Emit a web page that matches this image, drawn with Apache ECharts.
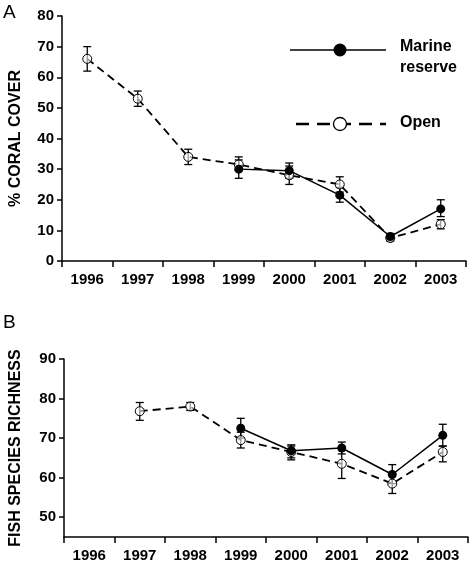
<!DOCTYPE html>
<html>
<head>
<meta charset="utf-8">
<script src="https://cdn.jsdelivr.net/npm/echarts@6/dist/echarts.min.js"></script>
<style>html,body{margin:0;padding:0;background:#fff}#c{width:474px;height:569px}</style>
</head>
<body>
<div id="c"></div>
<script>
var years = ['1996', '1997', '1998', '1999', '2000', '2001', '2002', '2003'];

// Panel A: % coral cover
var coralOpen = [66, 53, 34, 31.5, 28, 25, 7.5, 12];
var coralOpenLo = [62, 50.5, 31.5, 29.5, 25, 22.5, 6.5, 10.5];
var coralOpenHi = [70, 55.5, 36.5, 34, 31, 27.5, 8.5, 13.5];
var coralReserve = [null, null, null, 30, 29.5, 21.5, 8, 17];
var coralReserveLo = [null, null, null, 27, 27, 19.2, 7, 14.5];
var coralReserveHi = [null, null, null, 33, 32, 24, 9, 20];

// Panel B: fish species richness
var fishOpen = [null, 76.8, 78, 69.5, 66.5, 63.5, 58.5, 66.5];
var fishOpenLo = [null, 74.5, 77, 67.5, 64.5, 59.8, 56, 64];
var fishOpenHi = [null, 79, 79, 71.5, 68, 67.5, 61, 68];
var fishReserve = [null, null, null, 72.5, 66.8, 67.5, 60.8, 70.7];
var fishReserveLo = [null, null, null, 70, 65, 66, 58.5, 68];
var fishReserveHi = [null, null, null, 75, 68.3, 69, 63.3, 73.5];

var fishTicks = [50, 60, 70, 80, 90];

var font = 'Liberation Sans, Arial, sans-serif';

function errData(lo, hi) {
    var out = [];
    for (var i = 0; i < lo.length; i++) {
        if (lo[i] != null) out.push([i, lo[i], hi[i]]);
    }
    return out;
}

function errSeries(idx, lo, hi) {
    return {
        type: 'custom', xAxisIndex: idx, yAxisIndex: idx, z: 1,
        data: errData(lo, hi),
        renderItem: function (params, api) {
            var a = api.coord([api.value(0), api.value(1)]);
            var b = api.coord([api.value(0), api.value(2)]);
            var w = 4;
            var st = { stroke: '#000', lineWidth: 1.3 };
            return {
                type: 'group', children: [
                    { type: 'line', shape: { x1: a[0], y1: a[1], x2: b[0], y2: b[1] }, style: st },
                    { type: 'line', shape: { x1: a[0] - w, y1: a[1], x2: a[0] + w, y2: a[1] }, style: st },
                    { type: 'line', shape: { x1: b[0] - w, y1: b[1], x2: b[0] + w, y2: b[1] }, style: st }
                ]
            };
        }
    };
}

function lineSeries(idx, data, open) {
    return {
        type: 'line', xAxisIndex: idx, yAxisIndex: idx, data: data, z: open ? 2 : 3,
        connectNulls: false,
        symbol: 'circle', symbolSize: open ? 9 : 9,
        itemStyle: open ? { color: 'rgba(255,255,255,0.6)', borderColor: '#000', borderWidth: 1 } : { color: '#000' },
        lineStyle: open ? { color: '#000', width: 1.8, type: [8, 5] } : { color: '#000', width: 1.5 }
    };
}

function xAxis(idx) {
    return {
        type: 'category', gridIndex: idx, data: years, boundaryGap: true,
        axisLine: { lineStyle: { color: '#000', width: 1.5 } },
        axisTick: { show: true, length: 6, interval: 0, lineStyle: { color: '#000', width: 1.5 } },
        axisLabel: { color: '#000', fontFamily: font, fontWeight: 'bold', fontSize: 15, margin: 11, interval: 0 }
    };
}

var chart = echarts.init(document.getElementById('c'));
chart.setOption({
    animation: false,
    grid: [
        { left: 58, right: 8, top: 16, bottom: 308 },
        { left: 60, right: 6, top: 359, bottom: 32 }
    ],
    xAxis: [xAxis(0), xAxis(1)],
    yAxis: [
        {
            type: 'value', gridIndex: 0, min: 0, max: 80, interval: 10,
            name: '% CORAL COVER', nameLocation: 'middle', nameGap: 38,
            nameTextStyle: { color: '#000', fontFamily: font, fontWeight: 'bold', fontSize: 16 },
            splitLine: { show: false },
            axisLine: { show: true, lineStyle: { color: '#000', width: 1.5 } },
            axisTick: { show: true, length: 5, lineStyle: { color: '#000', width: 1.5 } },
            axisLabel: { color: '#000', fontFamily: font, fontWeight: 'bold', fontSize: 15, margin: 8 }
        },
        {
            type: 'value', gridIndex: 1, min: 45, max: 90,
            name: 'FISH SPECIES RICHNESS', nameLocation: 'middle', nameGap: 40,
            nameTextStyle: { color: '#000', fontFamily: font, fontWeight: 'bold', fontSize: 16 },
            splitLine: { show: false },
            axisLine: { show: true, lineStyle: { color: '#000', width: 1.5 } },
            axisTick: { show: true, length: 5, customValues: fishTicks, lineStyle: { color: '#000', width: 1.5 } },
            axisLabel: { color: '#000', fontFamily: font, fontWeight: 'bold', fontSize: 15, margin: 8, customValues: fishTicks }
        }
    ],
    series: [
        errSeries(0, coralOpenLo, coralOpenHi),
        errSeries(0, coralReserveLo, coralReserveHi),
        lineSeries(0, coralOpen, true),
        lineSeries(0, coralReserve, false),
        errSeries(1, fishOpenLo, fishOpenHi),
        errSeries(1, fishReserveLo, fishReserveHi),
        lineSeries(1, fishOpen, true),
        lineSeries(1, fishReserve, false)
    ],
    graphic: [
        { type: 'text', left: 3, top: 3, style: { text: 'A', fontFamily: font, fontSize: 19, fill: '#000' } },
        { type: 'text', left: 3, top: 313, style: { text: 'B', fontFamily: font, fontSize: 19, fill: '#000' } },
        { type: 'line', shape: { x1: 290, y1: 50, x2: 386, y2: 50 }, style: { stroke: '#000', lineWidth: 1.5 } },
        { type: 'circle', shape: { cx: 340, cy: 50, r: 6.5 }, style: { fill: '#000' } },
        { type: 'text', left: 400, top: 36, style: { text: 'Marine\nreserve', fontFamily: font, fontWeight: 'bold', fontSize: 16, lineHeight: 21, fill: '#000' } },
        { type: 'line', shape: { x1: 296, y1: 124, x2: 386, y2: 124 }, style: { stroke: '#000', lineWidth: 2.5, lineDash: [13, 8] } },
        { type: 'circle', z: 10, shape: { cx: 340, cy: 124, r: 6.5 }, style: { fill: '#fff', stroke: '#000', lineWidth: 1.3 } },
        { type: 'text', left: 400, top: 115, style: { text: 'Open', fontFamily: font, fontWeight: 'bold', fontSize: 16, fill: '#000' } }
    ]
});
</script>
</body>
</html>
